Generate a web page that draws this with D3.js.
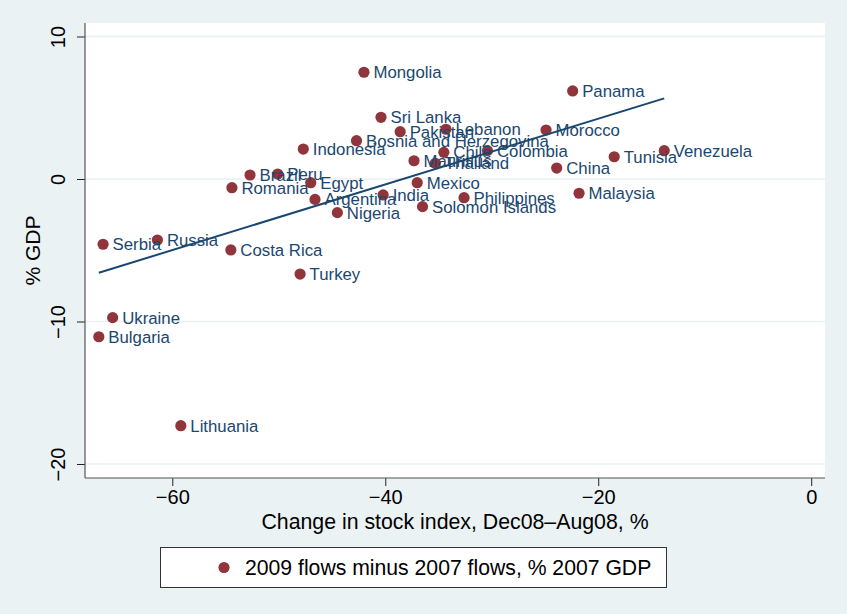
<!DOCTYPE html>
<html>
<head>
<meta charset="utf-8">
<script src="https://cdn.jsdelivr.net/npm/d3@7"></script>
<style>
  html, body { margin: 0; padding: 0; background: #eaf2f3; }
  svg { display: block; font-family: "Liberation Sans", Arial, Helvetica, sans-serif; }
</style>
</head>
<body>
<svg id="chart" width="847" height="614"></svg>
<script>
// ---- data ----
const countries = ["Mongolia","Panama","Sri Lanka","Pakistan","Lebanon","Morocco",
  "Bosnia and Herzegovina","Indonesia","Chile","Colombia","Tunisia","Venezuela",
  "Mauritius","Thailand","China","Brazil","Peru","Egypt","Mexico","Romania",
  "Malaysia","India","Philippines","Argentina","Solomon Islands","Nigeria",
  "Russia","Serbia","Costa Rica","Turkey","Ukraine","Bulgaria","Lithuania"];
const stockChange = [-42.0,-22.4,-40.4,-38.6,-34.3,-24.9,
  -42.7,-47.7,-34.5,-30.4,-18.5,-13.8,
  -37.3,-35.3,-23.9,-52.7,-50.1,-47.0,-37.0,-54.4,
  -21.8,-40.2,-32.6,-46.6,-36.5,-44.5,
  -61.4,-66.5,-54.5,-48.0,-65.6,-66.9,-59.2];
const flowChange = [7.49,6.18,4.33,3.32,3.49,3.44,
  2.69,2.10,1.87,1.99,1.56,1.99,
  1.28,1.10,0.77,0.28,0.35,-0.26,-0.26,-0.61,
  -1.00,-1.12,-1.31,-1.43,-1.94,-2.36,
  -4.28,-4.58,-4.98,-6.67,-9.73,-11.07,-17.31];
const fitX = [-66.9, -13.8];
const fitY = [-6.58, 5.66];
const xTicks = [-60, -40, -20, 0];
const yTicks = [-20, -10, 0, 10];
const xTitle = "Change in stock index, Dec08\u2013Aug08, %";
const yTitle = "% GDP";
const legendLabel = "2009 flows minus 2007 flows, % 2007 GDP";

// ---- layout ----
const svg = d3.select("#chart");
const plot = {left: 85, right: 825, top: 23, bottom: 478};
const x = d3.scaleLinear().domain([-60, 0]).range([172.3, 811.2]);
const y = d3.scaleLinear().domain([-20, 10]).range([464, 36.5]);
const navy = "#1a476f", maroon = "#90353b", bg = "#eaf2f3";

svg.append("rect").attr("width", 847).attr("height", 614).attr("fill", bg);
svg.append("rect").attr("x", plot.left).attr("y", plot.top)
  .attr("width", plot.right - plot.left).attr("height", plot.bottom - plot.top)
  .attr("fill", "#fff");

// gridlines
svg.append("g").selectAll("line").data(yTicks).join("line")
  .attr("x1", plot.left).attr("x2", plot.right)
  .attr("y1", d => y(d)).attr("y2", d => y(d))
  .attr("stroke", bg).attr("stroke-width", 1.5);

// y axis
const yAxis = d3.axisLeft(y).tickValues(yTicks).tickSize(8).tickPadding(8)
  .tickFormat(d => d < 0 ? "\u2212" + Math.abs(d) : d);
const gy = svg.append("g").attr("transform", `translate(${plot.left},0)`).call(yAxis);
gy.select(".domain").remove();
gy.selectAll(".tick line").attr("stroke", "#222");
gy.selectAll(".tick text").attr("font-size", 20).attr("fill", "#000")
  .attr("transform", "rotate(-90, -20, 0)")
  .attr("x", -20).attr("dy", "0.35em").attr("text-anchor", "middle")
  .attr("y", -7);
svg.append("line").attr("x1", plot.left).attr("x2", plot.left)
  .attr("y1", plot.top).attr("y2", plot.bottom).attr("stroke", "#555").attr("stroke-width", 1.2);

// x axis
const xAxis = d3.axisBottom(x).tickValues(xTicks).tickSize(8).tickPadding(4)
  .tickFormat(d => d < 0 ? "\u2212" + Math.abs(d) : d);
const gx = svg.append("g").attr("transform", `translate(0,${plot.bottom})`).call(xAxis);
gx.select(".domain").remove();
gx.selectAll(".tick line").attr("stroke", "#222");
gx.selectAll(".tick text").attr("font-size", 20).attr("fill", "#000");
svg.append("line").attr("x1", plot.left).attr("x2", plot.right)
  .attr("y1", plot.bottom).attr("y2", plot.bottom).attr("stroke", "#555").attr("stroke-width", 1.2);

// titles
svg.append("text").attr("x", (plot.left + plot.right) / 2).attr("y", 529)
  .attr("text-anchor", "middle").attr("font-size", 21.3).attr("fill", "#000").text(xTitle);
svg.append("text").attr("transform", `translate(40,${(plot.top + plot.bottom) / 2}) rotate(-90)`)
  .attr("text-anchor", "middle").attr("font-size", 21).attr("fill", "#000").text(yTitle);

// points
const data = countries.map((c, i) => ({name: c, x: stockChange[i], y: flowChange[i]}));
const pts = svg.append("g");
pts.selectAll("circle").data(data).join("circle")
  .attr("cx", d => x(d.x)).attr("cy", d => y(d.y)).attr("r", 5.6).attr("fill", maroon);
pts.selectAll("text").data(data).join("text")
  .attr("x", d => x(d.x) + 9.5).attr("y", d => y(d.y)).attr("dy", "0.36em")
  .attr("font-size", 16.8).attr("fill", navy).text(d => d.name);

// fit line
const line = d3.line().x(d => x(d[0])).y(d => y(d[1]));
svg.append("path").datum(fitX.map((v, i) => [v, fitY[i]]))
  .attr("d", line).attr("fill", "none").attr("stroke", navy).attr("stroke-width", 2);

// legend
const lg = svg.append("g");
lg.append("rect").attr("x", 160.5).attr("y", 547.5).attr("width", 506).attr("height", 40)
  .attr("fill", "#fff").attr("stroke", "#333").attr("stroke-width", 1);
lg.append("circle").attr("cx", 224).attr("cy", 567.5).attr("r", 5.6).attr("fill", maroon);
lg.append("text").attr("x", 245).attr("y", 567.5).attr("dy", "0.36em")
  .attr("font-size", 21.2).attr("fill", "#000").text(legendLabel);
</script>
</body>
</html>
